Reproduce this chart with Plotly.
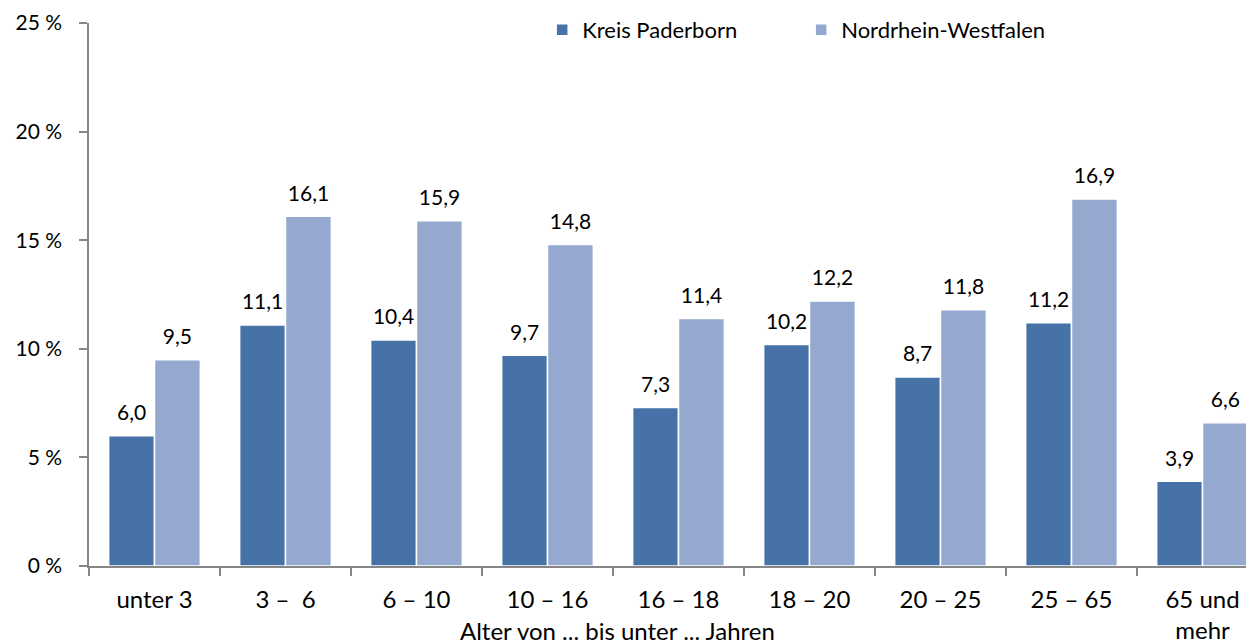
import plotly.graph_objects as go

categories = ["unter 3", "3 –\u00a0\u00a06", "6 – 10", "10 – 16", "16 – 18", "18 – 20", "20 – 25", "25 – 65", "65 und<br>mehr"]
kreis = [6.0, 11.1, 10.4, 9.7, 7.3, 10.2, 8.7, 11.2, 3.9]
nrw = [9.5, 16.1, 15.9, 14.8, 11.4, 12.2, 11.8, 16.9, 6.6]
ytick_vals = [0, 5, 10, 15, 20, 25]
ytick_text = ["0 %", "5 %", "10 %", "15 %", "20 %", "25 %"]
x_title = "Alter von ... bis unter ... Jahren"

FONT = "Lato, 'Open Sans', sans-serif"
C_KREIS = "#4672A7"
C_NRW = "#95A9D0"

def fmt(v):
    return f"{v:.1f}".replace(".", ",")

fig = go.Figure()
for name, vals, col in [("Kreis Paderborn", kreis, C_KREIS), ("Nordrhein-Westfalen", nrw, C_NRW)]:
    fig.add_trace(go.Bar(
        name=name, x=categories, y=vals,
        marker=dict(color=col, line=dict(color="white", width=1.5)),
        hoverinfo="x+y",
    ))
for name, vals in [("Kreis Paderborn", kreis), ("Nordrhein-Westfalen", nrw)]:
    fig.add_trace(go.Scatter(
        name=name, x=categories, y=vals, mode="markers+text",
        text=[fmt(v) for v in vals], textposition="top center",
        marker=dict(size=15, opacity=0), showlegend=False, hoverinfo="skip",
        textfont=dict(size=21, color="#000000", family=FONT), cliponaxis=False,
    ))

fig.update_layout(
    width=1246, height=636,
    margin=dict(l=81, r=0, t=15, b=78, autoexpand=False),
    paper_bgcolor="white", plot_bgcolor="white",
    font=dict(family=FONT, size=21, color="#000000"),
    barmode="group", bargap=0.3, bargroupgap=0.0,
    scattermode="group", scattergap=0.3,
    showlegend=True,
    legend=dict(orientation="h", x=0.389, xanchor="left", y=0.987, yanchor="middle",
                font=dict(size=22, family=FONT), entrywidth=214, entrywidthmode="pixels",
                bgcolor="rgba(0,0,0,0)", traceorder="normal"),
    xaxis=dict(
        type="category", range=[-0.5, 8.393],
        showline=True, linecolor="#868686", linewidth=1.5,
        ticks="outside", tickson="boundaries", ticklen=8, tickcolor="#868686", tickwidth=1.5,
        tickfont=dict(size=24, family=FONT), showgrid=False, ticklabelstandoff=11,
    ),
    yaxis=dict(
        range=[0, 25], tickvals=ytick_vals, ticktext=ytick_text,
        showline=True, linecolor="#868686", linewidth=1.5,
        ticks="outside", ticklen=8, tickcolor="#868686", tickwidth=1.5,
        tickfont=dict(size=21, family=FONT), showgrid=False, zeroline=False,
        ticklabelstandoff=13,
    ),
    annotations=[dict(
        text=x_title, xref="paper", yref="paper", x=0.454, y=0,
        xanchor="center", yanchor="middle", yshift=-64, showarrow=False,
        font=dict(size=24, family=FONT, color="#000000"),
    )],
)

fig.write_html("out.html")
